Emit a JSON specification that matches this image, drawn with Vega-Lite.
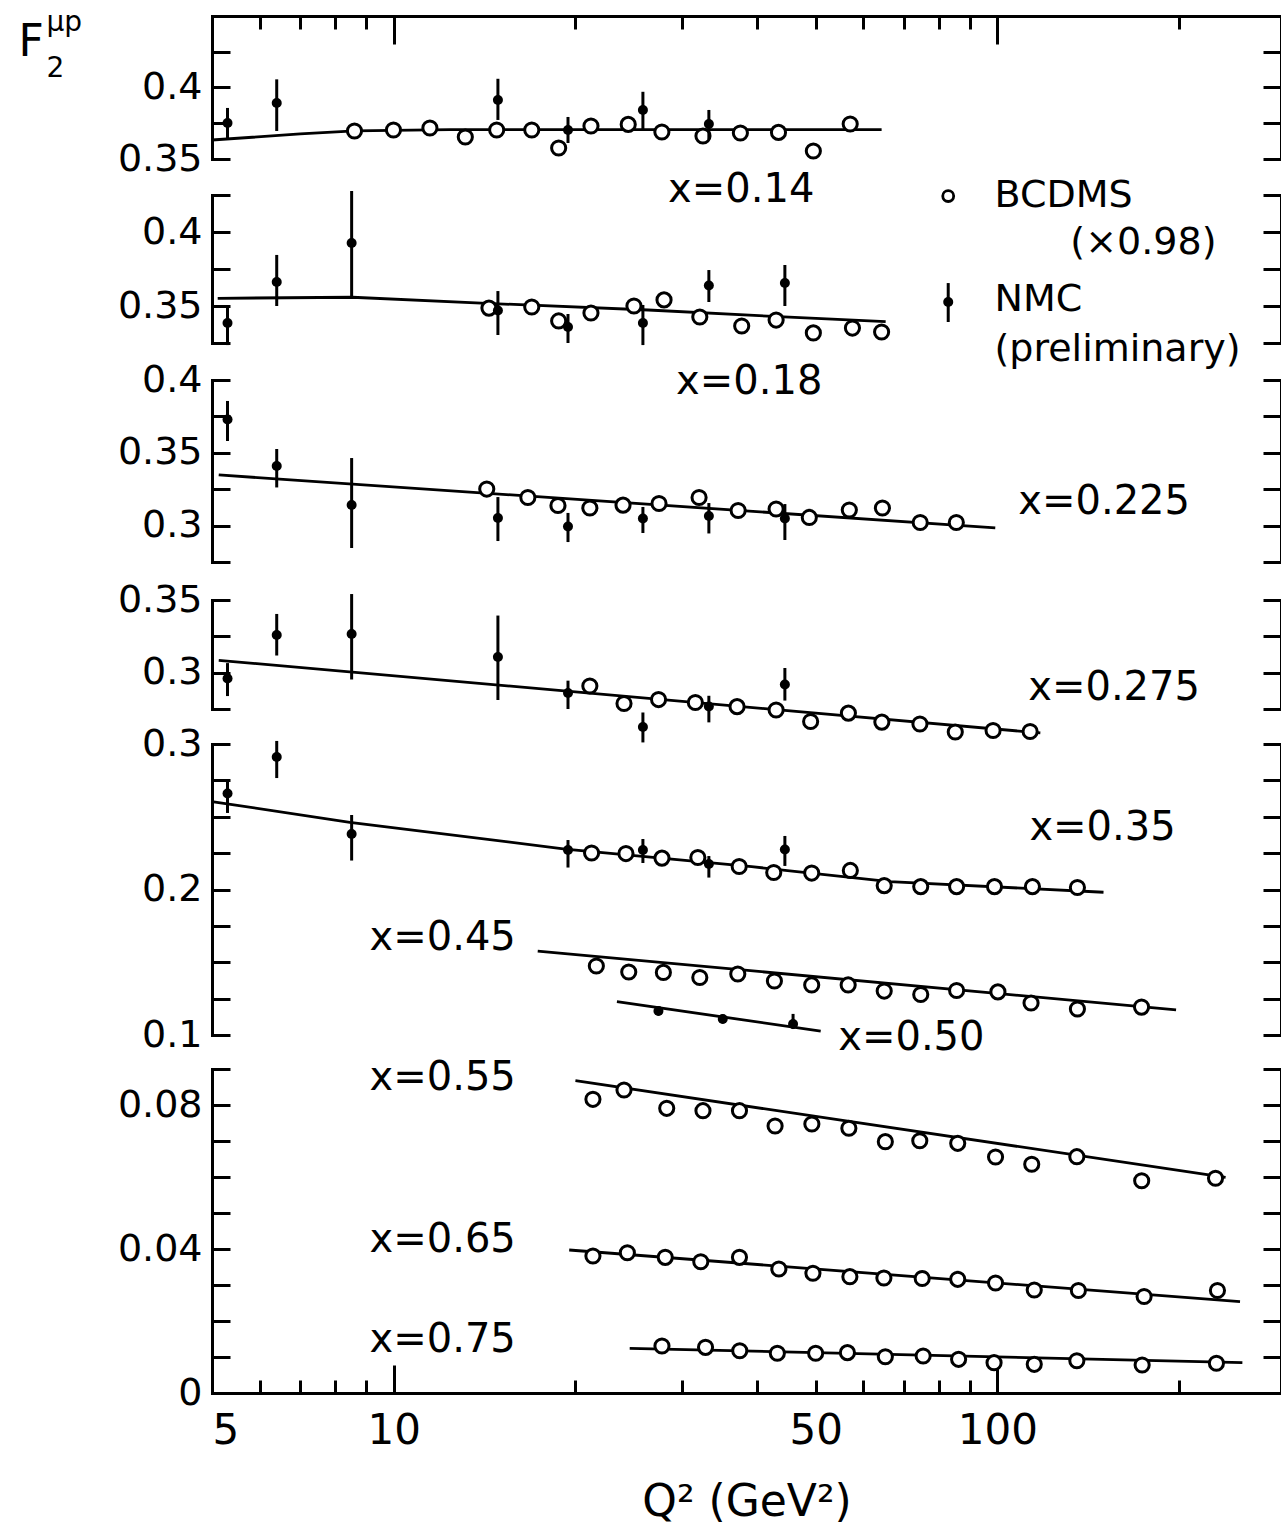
{
  "$schema": "https://vega.github.io/schema/vega-lite/v6.json",
  "width": 1069,
  "height": 1377,
  "autosize": {"type": "none"},
  "padding": {"left": 212, "top": 16, "right": 0, "bottom": 139},
  "background": "white",
  "config": {
    "view": {"stroke": null},
    "font": "DejaVu Sans",
    "axis": {
      "grid": false, "domainColor": "black", "tickColor": "black", "labelColor": "black", "titleColor": "black",
      "domainWidth": 3, "tickWidth": 3, "domainCap": "square", "labelOverlap": false, "labelBound": false,
      "titleFontWeight": "normal", "labelFontSize": 38, "labelFont": "DejaVu Sans", "titleFont": "DejaVu Sans"
    }
  },
  "datasets": {
    "bcdms": [
      {"p":1,"Q2":8.61,"F2":0.3696},{"p":1,"Q2":9.99,"F2":0.3703},{"p":1,"Q2":11.48,"F2":0.3717},{"p":1,"Q2":13.14,"F2":0.3654},{"p":1,"Q2":14.81,"F2":0.3703},{"p":1,"Q2":16.93,"F2":0.3703},{"p":1,"Q2":18.76,"F2":0.3577},{"p":1,"Q2":21.22,"F2":0.3731},{"p":1,"Q2":24.46,"F2":0.3742},{"p":1,"Q2":27.81,"F2":0.3689},{"p":1,"Q2":32.53,"F2":0.3661},{"p":1,"Q2":37.52,"F2":0.3682},{"p":1,"Q2":43.39,"F2":0.3686},{"p":1,"Q2":49.56,"F2":0.3556},{"p":1,"Q2":57.04,"F2":0.3745},
      {"p":2,"Q2":14.38,"F2":0.3486},{"p":2,"Q2":16.93,"F2":0.3493},{"p":2,"Q2":18.76,"F2":0.3399},{"p":2,"Q2":21.22,"F2":0.3453},{"p":2,"Q2":25.0,"F2":0.35},{"p":2,"Q2":28.04,"F2":0.3541},{"p":2,"Q2":32.14,"F2":0.3426},{"p":2,"Q2":37.71,"F2":0.3365},{"p":2,"Q2":43.0,"F2":0.3405},{"p":2,"Q2":49.56,"F2":0.3318},{"p":2,"Q2":57.53,"F2":0.3351},{"p":2,"Q2":64.3,"F2":0.3324},
      {"p":3,"Q2":14.26,"F2":0.3251},{"p":3,"Q2":16.68,"F2":0.3193},{"p":3,"Q2":18.71,"F2":0.3138},{"p":3,"Q2":21.13,"F2":0.3121},{"p":3,"Q2":23.98,"F2":0.3141},{"p":3,"Q2":27.51,"F2":0.3152},{"p":3,"Q2":32.05,"F2":0.3193},{"p":3,"Q2":37.2,"F2":0.3104},{"p":3,"Q2":43.0,"F2":0.3114},{"p":3,"Q2":48.8,"F2":0.3056},{"p":3,"Q2":56.85,"F2":0.3107},{"p":3,"Q2":64.5,"F2":0.3121},{"p":3,"Q2":74.5,"F2":0.3021},{"p":3,"Q2":85.5,"F2":0.3021},
      {"p":4,"Q2":21.13,"F2":0.2908},{"p":4,"Q2":24.07,"F2":0.2788},{"p":4,"Q2":27.46,"F2":0.2815},{"p":4,"Q2":31.6,"F2":0.2795},{"p":4,"Q2":37.05,"F2":0.2766},{"p":4,"Q2":43.0,"F2":0.2743},{"p":4,"Q2":49.05,"F2":0.2664},{"p":4,"Q2":56.65,"F2":0.2722},{"p":4,"Q2":64.36,"F2":0.266},{"p":4,"Q2":74.42,"F2":0.2647},{"p":4,"Q2":85.16,"F2":0.2592},{"p":4,"Q2":98.37,"F2":0.2602},{"p":4,"Q2":113.3,"F2":0.2595},
      {"p":5,"Q2":21.27,"F2":0.2251},{"p":5,"Q2":24.25,"F2":0.2247},{"p":5,"Q2":27.82,"F2":0.2216},{"p":5,"Q2":31.9,"F2":0.222},{"p":5,"Q2":37.35,"F2":0.2158},{"p":5,"Q2":42.61,"F2":0.2117},{"p":5,"Q2":49.25,"F2":0.2113},{"p":5,"Q2":57.07,"F2":0.2131},{"p":5,"Q2":64.94,"F2":0.2027},{"p":5,"Q2":74.65,"F2":0.202},{"p":5,"Q2":85.6,"F2":0.202},{"p":5,"Q2":98.9,"F2":0.202},{"p":5,"Q2":114.3,"F2":0.202},{"p":5,"Q2":135.7,"F2":0.2014},
      {"p":5,"Q2":21.66,"F2":0.1474},{"p":5,"Q2":24.51,"F2":0.1433},{"p":5,"Q2":27.97,"F2":0.143},{"p":5,"Q2":32.14,"F2":0.1395},{"p":5,"Q2":37.15,"F2":0.1419},{"p":5,"Q2":42.72,"F2":0.1371},{"p":5,"Q2":49.25,"F2":0.1344},{"p":5,"Q2":56.6,"F2":0.1344},{"p":5,"Q2":64.94,"F2":0.1302},{"p":5,"Q2":74.65,"F2":0.1278},{"p":5,"Q2":85.6,"F2":0.1306},{"p":5,"Q2":100.2,"F2":0.1296},{"p":5,"Q2":113.7,"F2":0.122},{"p":5,"Q2":135.7,"F2":0.1179},{"p":5,"Q2":173.3,"F2":0.1192},
      {"p":6,"Q2":21.38,"F2":0.08158},{"p":6,"Q2":24.07,"F2":0.08417},{"p":6,"Q2":28.33,"F2":0.07908},{"p":6,"Q2":32.53,"F2":0.07842},{"p":6,"Q2":37.39,"F2":0.07842},{"p":6,"Q2":42.83,"F2":0.07417},{"p":6,"Q2":49.28,"F2":0.07472},{"p":6,"Q2":56.75,"F2":0.07353},{"p":6,"Q2":65.22,"F2":0.06981},{"p":6,"Q2":74.38,"F2":0.07008},{"p":6,"Q2":85.96,"F2":0.06936},{"p":6,"Q2":99.3,"F2":0.06556},{"p":6,"Q2":114.0,"F2":0.06353},{"p":6,"Q2":135.4,"F2":0.06564},{"p":6,"Q2":173.4,"F2":0.05897},{"p":6,"Q2":229.8,"F2":0.05964},
      {"p":6,"Q2":21.38,"F2":0.03806},{"p":6,"Q2":24.38,"F2":0.03897},{"p":6,"Q2":28.17,"F2":0.03769},{"p":6,"Q2":32.26,"F2":0.03647},{"p":6,"Q2":37.39,"F2":0.03769},{"p":6,"Q2":43.45,"F2":0.03444},{"p":6,"Q2":49.48,"F2":0.03325},{"p":6,"Q2":56.97,"F2":0.03231},{"p":6,"Q2":64.86,"F2":0.03194},{"p":6,"Q2":75.07,"F2":0.0318},{"p":6,"Q2":85.96,"F2":0.03158},{"p":6,"Q2":99.3,"F2":0.03056},{"p":6,"Q2":115.1,"F2":0.02861},{"p":6,"Q2":136.2,"F2":0.02847},{"p":6,"Q2":175.0,"F2":0.0268},{"p":6,"Q2":231.5,"F2":0.02847},
      {"p":6,"Q2":27.82,"F2":0.01306},{"p":6,"Q2":32.85,"F2":0.01269},{"p":6,"Q2":37.43,"F2":0.01175},{"p":6,"Q2":43.2,"F2":0.01103},{"p":6,"Q2":50.0,"F2":0.01103},{"p":6,"Q2":56.44,"F2":0.0112},{"p":6,"Q2":65.22,"F2":0.01008},{"p":6,"Q2":75.34,"F2":0.01028},{"p":6,"Q2":86.25,"F2":0.00936},{"p":6,"Q2":98.74,"F2":0.00842},{"p":6,"Q2":115.1,"F2":0.00797},{"p":6,"Q2":135.4,"F2":0.00897},{"p":6,"Q2":173.7,"F2":0.00778},{"p":6,"Q2":230.6,"F2":0.00825}
    ],
    "nmc": [
      {"p":1,"Q2":5.305,"F2":0.3752,"lo":0.3647,"hi":0.3857},{"p":1,"Q2":6.4,"F2":0.3892,"lo":0.3696,"hi":0.4057},{"p":1,"Q2":14.88,"F2":0.3913,"lo":0.3773,"hi":0.4061},{"p":1,"Q2":19.44,"F2":0.3703,"lo":0.3612,"hi":0.3794},{"p":1,"Q2":25.87,"F2":0.3843,"lo":0.3703,"hi":0.397},{"p":1,"Q2":33.27,"F2":0.3745,"lo":0.364,"hi":0.3843},
      {"p":2,"Q2":5.305,"F2":0.3385,"lo":0.3236,"hi":0.35},{"p":2,"Q2":6.4,"F2":0.3662,"lo":0.35,"hi":0.3845},{"p":2,"Q2":8.517,"F2":0.3926,"lo":0.3554,"hi":0.4277},{"p":2,"Q2":14.88,"F2":0.347,"lo":0.3304,"hi":0.3601},{"p":2,"Q2":19.44,"F2":0.3358,"lo":0.325,"hi":0.3446},{"p":2,"Q2":25.87,"F2":0.3385,"lo":0.3236,"hi":0.3507},{"p":2,"Q2":33.27,"F2":0.3639,"lo":0.3527,"hi":0.3743},{"p":2,"Q2":44.46,"F2":0.3655,"lo":0.35,"hi":0.3777},
      {"p":3,"Q2":5.305,"F2":0.3729,"lo":0.3581,"hi":0.3856},{"p":3,"Q2":6.4,"F2":0.3409,"lo":0.3262,"hi":0.3526},{"p":3,"Q2":8.517,"F2":0.3141,"lo":0.2846,"hi":0.3464},{"p":3,"Q2":14.88,"F2":0.3052,"lo":0.2894,"hi":0.3196},{"p":3,"Q2":19.44,"F2":0.2994,"lo":0.2887,"hi":0.3087},{"p":3,"Q2":25.87,"F2":0.3049,"lo":0.2949,"hi":0.3128},{"p":3,"Q2":33.27,"F2":0.3066,"lo":0.2946,"hi":0.3155},{"p":3,"Q2":44.46,"F2":0.3049,"lo":0.2901,"hi":0.3148},
      {"p":4,"Q2":5.305,"F2":0.296,"lo":0.2839,"hi":0.3066},{"p":4,"Q2":6.4,"F2":0.3259,"lo":0.3118,"hi":0.3404},{"p":4,"Q2":8.517,"F2":0.3266,"lo":0.2953,"hi":0.3541},{"p":4,"Q2":14.88,"F2":0.3108,"lo":0.2812,"hi":0.3393},{"p":4,"Q2":19.44,"F2":0.286,"lo":0.275,"hi":0.2945},{"p":4,"Q2":25.87,"F2":0.2626,"lo":0.252,"hi":0.2726},{"p":4,"Q2":33.27,"F2":0.2767,"lo":0.2658,"hi":0.2841},{"p":4,"Q2":44.46,"F2":0.2918,"lo":0.2808,"hi":0.3032},
      {"p":5,"Q2":5.305,"F2":0.266,"lo":0.2526,"hi":0.2739},{"p":5,"Q2":6.4,"F2":0.2911,"lo":0.2766,"hi":0.3021},{"p":5,"Q2":8.517,"F2":0.2381,"lo":0.2199,"hi":0.2512},{"p":5,"Q2":19.44,"F2":0.2271,"lo":0.2151,"hi":0.234},{"p":5,"Q2":25.87,"F2":0.2271,"lo":0.2182,"hi":0.2347},{"p":5,"Q2":33.27,"F2":0.2175,"lo":0.2082,"hi":0.223},{"p":5,"Q2":44.46,"F2":0.2275,"lo":0.2162,"hi":0.2368},
      {"p":5,"Q2":27.45,"F2":0.1165,"lo":0.1135,"hi":0.1195},{"p":5,"Q2":35.08,"F2":0.111,"lo":0.108,"hi":0.114},{"p":5,"Q2":45.87,"F2":0.1076,"lo":0.1041,"hi":0.1145}
    ],
    "fits": [
      {"p":1,"c":"0.14","Q2":5.0,"F2":0.3633},{"p":1,"c":"0.14","Q2":7.0,"F2":0.3675},{"p":1,"c":"0.14","Q2":8.61,"F2":0.3696},{"p":1,"c":"0.14","Q2":12.4,"F2":0.3706},{"p":1,"c":"0.14","Q2":64.3,"F2":0.3706},
      {"p":2,"c":"0.18","Q2":5.11,"F2":0.3552},{"p":2,"c":"0.18","Q2":8.54,"F2":0.3559},{"p":2,"c":"0.18","Q2":14.26,"F2":0.3518},{"p":2,"c":"0.18","Q2":26.4,"F2":0.3473},{"p":2,"c":"0.18","Q2":43.4,"F2":0.3428},{"p":2,"c":"0.18","Q2":65.3,"F2":0.3394},
      {"p":3,"c":"0.225","Q2":5.13,"F2":0.3348},{"p":3,"c":"0.225","Q2":99.2,"F2":0.2984},
      {"p":4,"c":"0.275","Q2":5.13,"F2":0.3085},{"p":4,"c":"0.275","Q2":117.8,"F2":0.2585},
      {"p":5,"c":"0.35","Q2":5.03,"F2":0.2603},{"p":5,"c":"0.35","Q2":8.46,"F2":0.2462},{"p":5,"c":"0.35","Q2":19.24,"F2":0.2278},{"p":5,"c":"0.35","Q2":39.16,"F2":0.2157},{"p":5,"c":"0.35","Q2":66.3,"F2":0.2054},{"p":5,"c":"0.35","Q2":149.9,"F2":0.1981},
      {"p":5,"c":"0.45","Q2":17.32,"F2":0.1577},{"p":5,"c":"0.45","Q2":197.7,"F2":0.1172},
      {"p":5,"c":"0.50","Q2":23.43,"F2":0.1229},{"p":5,"c":"0.50","Q2":50.97,"F2":0.1027},
      {"p":6,"c":"0.55","Q2":20.0,"F2":0.08675},{"p":6,"c":"0.55","Q2":238.8,"F2":0.0599},
      {"p":6,"c":"0.65","Q2":19.53,"F2":0.03972},{"p":6,"c":"0.65","Q2":252.3,"F2":0.02536},
      {"p":6,"c":"0.75","Q2":24.6,"F2":0.01242},{"p":6,"c":"0.75","Q2":254.6,"F2":0.00842}
    ],
    "labels": [
      {"p":1,"Q2":28.48,"F2":0.3283,"text":"x=0.14"},
      {"p":2,"Q2":29.36,"F2":0.2986,"text":"x=0.18"},
      {"p":3,"Q2":108.3,"F2":0.3162,"text":"x=0.225"},
      {"p":4,"Q2":112.5,"F2":0.2894,"text":"x=0.275"},
      {"p":5,"Q2":113.0,"F2":0.2423,"text":"x=0.35"},
      {"p":5,"Q2":9.12,"F2":0.1667,"text":"x=0.45"},
      {"p":5,"Q2":54.5,"F2":0.0979,"text":"x=0.50"},
      {"p":6,"Q2":9.12,"F2":0.0875,"text":"x=0.55"},
      {"p":6,"Q2":9.12,"F2":0.0425,"text":"x=0.65"},
      {"p":6,"Q2":9.12,"F2":0.0147,"text":"x=0.75"}
    ],
    "legend": [
      {"kind":"bcdms","Q2":82.9,"F2":0.4243},
      {"kind":"nmc","Q2":82.9,"F2":0.3527,"lo":0.3392,"hi":0.3655},
      {"kind":"text","Q2":98.9,"F2":0.4243,"text":"BCDMS"},
      {"kind":"text","Q2":132.1,"F2":0.3926,"text":"(×0.98)"},
      {"kind":"text","Q2":98.9,"F2":0.354,"text":"NMC"},
      {"kind":"text","Q2":98.9,"F2":0.3203,"text":"(preliminary)"}
    ]
  },
  "layer": [
    {
      "layer": [
        {"data":{"name":"fits"},"transform":[{"filter":"datum.p == 1"}],"mark":{"type":"line","color":"black","strokeWidth":2.8},
         "encoding":{"x":{"field":"Q2","type":"quantitative","scale":{"type":"log","domain":[5,295],"nice":false},"axis":null},
           "y":{"field":"F2","type":"quantitative","scale":{"domain":[0.35,0.45],"range":[143,0],"nice":false,"zero":false},
             "axis":{"orient":"left","values":[0.35,0.375,0.4,0.425],"format":".2~f","labelExpr":"indexof([0.35,0.4], datum.value) >= 0 ? datum.label : ''","tickSize":-18,"labelPadding":28,
               "title":"F","titleAngle":0,"titleX":-194,"titleY":26,"titleAlign":"left","titleBaseline":"middle","titleFontSize":44}},
           "detail":{"field":"c"}}},
        {"data":{"name":"bcdms"},"transform":[{"filter":"datum.p == 1"}],"mark":{"type":"point","shape":"circle","filled":true,"fill":"white","stroke":"black","strokeWidth":3,"size":200,"opacity":1},
         "encoding":{"x":{"field":"Q2","type":"quantitative","scale":{"type":"log","domain":[5,295],"nice":false},"axis":null},
           "y":{"field":"F2","type":"quantitative","axis":{"orient":"right","values":[0.35,0.375,0.4,0.425],"tickSize":-18,"labels":false,
             "title":"μp","titleAngle":0,"titleX":-1235,"titleY":6,"titleAlign":"left","titleBaseline":"middle","titleFontSize":28}}}},
        {"data":{"name":"nmc"},"transform":[{"filter":"datum.p == 1"}],"mark":{"type":"rule","color":"black","strokeWidth":3},
         "encoding":{"x":{"field":"Q2","type":"quantitative","scale":{"type":"log","domain":[5,295],"nice":false},"axis":null},
           "y":{"field":"lo","type":"quantitative","axis":null},"y2":{"field":"hi"}}},
        {"data":{"name":"nmc"},"transform":[{"filter":"datum.p == 1"}],"mark":{"type":"point","shape":"circle","filled":true,"color":"black","size":100,"opacity":1},
         "encoding":{"x":{"field":"Q2","type":"quantitative","scale":{"type":"log","domain":[5,295],"nice":false},"axis":null},
           "y":{"field":"F2","type":"quantitative","axis":null}}},
        {"data":{"name":"labels"},"transform":[{"filter":"datum.p == 1"}],"mark":{"type":"text","align":"left","baseline":"middle","fontSize":40,"color":"black"},
         "encoding":{"x":{"field":"Q2","type":"quantitative","scale":{"type":"log","domain":[5,295],"nice":false},"axis":null},
           "y":{"field":"F2","type":"quantitative","axis":null},"text":{"field":"text"}}}
      ],
      "resolve":{"axis":{"y":"independent"}}
    },
    {
      "layer": [
        {"data":{"name":"fits"},"transform":[{"filter":"datum.p == 2"}],"mark":{"type":"line","color":"black","strokeWidth":2.8},
         "encoding":{"x":{"field":"Q2","type":"quantitative","scale":{"type":"log","domain":[5,295],"nice":false},"axis":null},
           "y":{"field":"F2","type":"quantitative","scale":{"domain":[0.325,0.425],"range":[327,179],"nice":false,"zero":false},
             "axis":{"orient":"left","values":[0.325,0.35,0.375,0.4,0.425],"format":".2~f","labelExpr":"indexof([0.35,0.4], datum.value) >= 0 ? datum.label : ''","tickSize":-18,"labelPadding":28,"title":null}},
           "detail":{"field":"c"}}},
        {"data":{"name":"bcdms"},"transform":[{"filter":"datum.p == 2"}],"mark":{"type":"point","shape":"circle","filled":true,"fill":"white","stroke":"black","strokeWidth":3,"size":200,"opacity":1},
         "encoding":{"x":{"field":"Q2","type":"quantitative","scale":{"type":"log","domain":[5,295],"nice":false},"axis":null},
           "y":{"field":"F2","type":"quantitative","axis":{"orient":"right","values":[0.325,0.35,0.375,0.4,0.425],"tickSize":-18,"labels":false,
             "title":"2","titleAngle":0,"titleX":-1235,"titleY":52,"titleAlign":"left","titleBaseline":"middle","titleFontSize":28}}}},
        {"data":{"name":"nmc"},"transform":[{"filter":"datum.p == 2"}],"mark":{"type":"rule","color":"black","strokeWidth":3},
         "encoding":{"x":{"field":"Q2","type":"quantitative","scale":{"type":"log","domain":[5,295],"nice":false},"axis":null},
           "y":{"field":"lo","type":"quantitative","axis":null},"y2":{"field":"hi"}}},
        {"data":{"name":"nmc"},"transform":[{"filter":"datum.p == 2"}],"mark":{"type":"point","shape":"circle","filled":true,"color":"black","size":100,"opacity":1},
         "encoding":{"x":{"field":"Q2","type":"quantitative","scale":{"type":"log","domain":[5,295],"nice":false},"axis":null},
           "y":{"field":"F2","type":"quantitative","axis":null}}},
        {"data":{"name":"labels"},"transform":[{"filter":"datum.p == 2"}],"mark":{"type":"text","align":"left","baseline":"middle","fontSize":40,"color":"black"},
         "encoding":{"x":{"field":"Q2","type":"quantitative","scale":{"type":"log","domain":[5,295],"nice":false},"axis":null},
           "y":{"field":"F2","type":"quantitative","axis":null},"text":{"field":"text"}}},
        {"data":{"name":"legend"},"transform":[{"filter":"datum.kind == 'text'"}],"mark":{"type":"text","align":"left","baseline":"middle","fontSize":38,"color":"black"},
         "encoding":{"x":{"field":"Q2","type":"quantitative","scale":{"type":"log","domain":[5,295],"nice":false},"axis":null},
           "y":{"field":"F2","type":"quantitative","axis":null},"text":{"field":"text"}}},
        {"data":{"name":"legend"},"transform":[{"filter":"datum.kind == 'bcdms'"}],"mark":{"type":"point","shape":"circle","filled":true,"fill":"white","stroke":"black","strokeWidth":2.8,"size":120,"opacity":1},
         "encoding":{"x":{"field":"Q2","type":"quantitative","scale":{"type":"log","domain":[5,295],"nice":false},"axis":null},
           "y":{"field":"F2","type":"quantitative","axis":null}}},
        {"data":{"name":"legend"},"transform":[{"filter":"datum.kind == 'nmc'"}],"mark":{"type":"rule","color":"black","strokeWidth":3},
         "encoding":{"x":{"field":"Q2","type":"quantitative","scale":{"type":"log","domain":[5,295],"nice":false},"axis":null},
           "y":{"field":"lo","type":"quantitative","axis":null},"y2":{"field":"hi"}}},
        {"data":{"name":"legend"},"transform":[{"filter":"datum.kind == 'nmc'"}],"mark":{"type":"point","shape":"circle","filled":true,"color":"black","size":100,"opacity":1},
         "encoding":{"x":{"field":"Q2","type":"quantitative","scale":{"type":"log","domain":[5,295],"nice":false},"axis":null},
           "y":{"field":"F2","type":"quantitative","axis":null}}}
      ],
      "resolve":{"axis":{"y":"independent"}}
    },
    {
      "layer": [
        {"data":{"name":"fits"},"transform":[{"filter":"datum.p == 3"}],"mark":{"type":"line","color":"black","strokeWidth":2.8},
         "encoding":{"x":{"field":"Q2","type":"quantitative","scale":{"type":"log","domain":[5,295],"nice":false},"axis":null},
           "y":{"field":"F2","type":"quantitative","scale":{"domain":[0.275,0.4],"range":[546,364],"nice":false,"zero":false},
             "axis":{"orient":"left","values":[0.275,0.3,0.325,0.35,0.375,0.4],"format":".2~f","labelExpr":"indexof([0.3,0.35,0.4], datum.value) >= 0 ? datum.label : ''","tickSize":-18,"labelPadding":28,"title":null}},
           "detail":{"field":"c"}}},
        {"data":{"name":"bcdms"},"transform":[{"filter":"datum.p == 3"}],"mark":{"type":"point","shape":"circle","filled":true,"fill":"white","stroke":"black","strokeWidth":3,"size":200,"opacity":1},
         "encoding":{"x":{"field":"Q2","type":"quantitative","scale":{"type":"log","domain":[5,295],"nice":false},"axis":null},
           "y":{"field":"F2","type":"quantitative","axis":{"orient":"right","values":[0.275,0.3,0.325,0.35,0.375,0.4],"tickSize":-18,"labels":false,"title":null}}}},
        {"data":{"name":"nmc"},"transform":[{"filter":"datum.p == 3"}],"mark":{"type":"rule","color":"black","strokeWidth":3},
         "encoding":{"x":{"field":"Q2","type":"quantitative","scale":{"type":"log","domain":[5,295],"nice":false},"axis":null},
           "y":{"field":"lo","type":"quantitative","axis":null},"y2":{"field":"hi"}}},
        {"data":{"name":"nmc"},"transform":[{"filter":"datum.p == 3"}],"mark":{"type":"point","shape":"circle","filled":true,"color":"black","size":100,"opacity":1},
         "encoding":{"x":{"field":"Q2","type":"quantitative","scale":{"type":"log","domain":[5,295],"nice":false},"axis":null},
           "y":{"field":"F2","type":"quantitative","axis":null}}},
        {"data":{"name":"labels"},"transform":[{"filter":"datum.p == 3"}],"mark":{"type":"text","align":"left","baseline":"middle","fontSize":40,"color":"black"},
         "encoding":{"x":{"field":"Q2","type":"quantitative","scale":{"type":"log","domain":[5,295],"nice":false},"axis":null},
           "y":{"field":"F2","type":"quantitative","axis":null},"text":{"field":"text"}}}
      ],
      "resolve":{"axis":{"y":"independent"}}
    },
    {
      "layer": [
        {"data":{"name":"fits"},"transform":[{"filter":"datum.p == 4"}],"mark":{"type":"line","color":"black","strokeWidth":2.8},
         "encoding":{"x":{"field":"Q2","type":"quantitative","scale":{"type":"log","domain":[5,295],"nice":false},"axis":null},
           "y":{"field":"F2","type":"quantitative","scale":{"domain":[0.275,0.35],"range":[693,584],"nice":false,"zero":false},
             "axis":{"orient":"left","values":[0.275,0.3,0.325,0.35],"format":".2~f","labelExpr":"indexof([0.3,0.35], datum.value) >= 0 ? datum.label : ''","tickSize":-18,"labelPadding":28,"title":null}},
           "detail":{"field":"c"}}},
        {"data":{"name":"bcdms"},"transform":[{"filter":"datum.p == 4"}],"mark":{"type":"point","shape":"circle","filled":true,"fill":"white","stroke":"black","strokeWidth":3,"size":200,"opacity":1},
         "encoding":{"x":{"field":"Q2","type":"quantitative","scale":{"type":"log","domain":[5,295],"nice":false},"axis":null},
           "y":{"field":"F2","type":"quantitative","axis":{"orient":"right","values":[0.275,0.3,0.325,0.35],"tickSize":-18,"labels":false,"title":null}}}},
        {"data":{"name":"nmc"},"transform":[{"filter":"datum.p == 4"}],"mark":{"type":"rule","color":"black","strokeWidth":3},
         "encoding":{"x":{"field":"Q2","type":"quantitative","scale":{"type":"log","domain":[5,295],"nice":false},"axis":null},
           "y":{"field":"lo","type":"quantitative","axis":null},"y2":{"field":"hi"}}},
        {"data":{"name":"nmc"},"transform":[{"filter":"datum.p == 4"}],"mark":{"type":"point","shape":"circle","filled":true,"color":"black","size":100,"opacity":1},
         "encoding":{"x":{"field":"Q2","type":"quantitative","scale":{"type":"log","domain":[5,295],"nice":false},"axis":null},
           "y":{"field":"F2","type":"quantitative","axis":null}}},
        {"data":{"name":"labels"},"transform":[{"filter":"datum.p == 4"}],"mark":{"type":"text","align":"left","baseline":"middle","fontSize":40,"color":"black"},
         "encoding":{"x":{"field":"Q2","type":"quantitative","scale":{"type":"log","domain":[5,295],"nice":false},"axis":null},
           "y":{"field":"F2","type":"quantitative","axis":null},"text":{"field":"text"}}}
      ],
      "resolve":{"axis":{"y":"independent"}}
    },
    {
      "layer": [
        {"data":{"name":"fits"},"transform":[{"filter":"datum.p == 5"}],"mark":{"type":"line","color":"black","strokeWidth":2.8},
         "encoding":{"x":{"field":"Q2","type":"quantitative","scale":{"type":"log","domain":[5,295],"nice":false},"axis":null},
           "y":{"field":"F2","type":"quantitative","scale":{"domain":[0.1,0.3],"range":[1019,728],"nice":false,"zero":false},
             "axis":{"orient":"left","values":[0.1,0.125,0.15,0.175,0.2,0.225,0.25,0.275,0.3],"format":".2~f","labelExpr":"indexof([0.1,0.2,0.3], datum.value) >= 0 ? datum.label : ''","tickSize":-18,"labelPadding":28,"title":null}},
           "detail":{"field":"c"}}},
        {"data":{"name":"bcdms"},"transform":[{"filter":"datum.p == 5"}],"mark":{"type":"point","shape":"circle","filled":true,"fill":"white","stroke":"black","strokeWidth":3,"size":200,"opacity":1},
         "encoding":{"x":{"field":"Q2","type":"quantitative","scale":{"type":"log","domain":[5,295],"nice":false},"axis":null},
           "y":{"field":"F2","type":"quantitative","axis":{"orient":"right","values":[0.1,0.125,0.15,0.175,0.2,0.225,0.25,0.275,0.3],"tickSize":-18,"labels":false,"title":null}}}},
        {"data":{"name":"nmc"},"transform":[{"filter":"datum.p == 5"}],"mark":{"type":"rule","color":"black","strokeWidth":3},
         "encoding":{"x":{"field":"Q2","type":"quantitative","scale":{"type":"log","domain":[5,295],"nice":false},"axis":null},
           "y":{"field":"lo","type":"quantitative","axis":null},"y2":{"field":"hi"}}},
        {"data":{"name":"nmc"},"transform":[{"filter":"datum.p == 5"}],"mark":{"type":"point","shape":"circle","filled":true,"color":"black","size":100,"opacity":1},
         "encoding":{"x":{"field":"Q2","type":"quantitative","scale":{"type":"log","domain":[5,295],"nice":false},"axis":null},
           "y":{"field":"F2","type":"quantitative","axis":null}}},
        {"data":{"name":"labels"},"transform":[{"filter":"datum.p == 5"}],"mark":{"type":"text","align":"left","baseline":"middle","fontSize":40,"color":"black"},
         "encoding":{"x":{"field":"Q2","type":"quantitative","scale":{"type":"log","domain":[5,295],"nice":false},"axis":null},
           "y":{"field":"F2","type":"quantitative","axis":null},"text":{"field":"text"}}}
      ],
      "resolve":{"axis":{"y":"independent"}}
    },
    {
      "layer": [
        {"data":{"name":"fits"},"transform":[{"filter":"datum.p == 6"}],"mark":{"type":"line","color":"black","strokeWidth":2.8},
         "encoding":{"x":{"field":"Q2","type":"quantitative","scale":{"type":"log","domain":[5,295],"nice":false},
             "axis":{"orient":"bottom","values":[5,6,7,8,9,10,20,30,40,50,60,70,80,90,100,200],"format":"d","labelExpr":"indexof([5,10,50,100], datum.value) >= 0 ? datum.label : ''",
               "tickSize":{"condition":{"test":"datum.value == 10 || datum.value == 100","value":-28},"value":-13},
               "labelPadding":{"condition":{"test":"datum.value == 10 || datum.value == 100","value":45},"value":30},
               "labelFontSize":42,"labelFlush":true,"title":"Q² (GeV²)","titleFontSize":44,"titleY":122,"titleBaseline":"alphabetic"}},
           "y":{"field":"F2","type":"quantitative","scale":{"domain":[0,0.09],"range":[1377,1053],"nice":false,"zero":false},
             "axis":{"orient":"left","values":[0,0.01,0.02,0.03,0.04,0.05,0.06,0.07,0.08,0.09],"format":".2~f","labelExpr":"indexof([0,0.04,0.08], datum.value) >= 0 ? datum.label : ''","tickSize":-18,"labelPadding":28,"title":null}},
           "detail":{"field":"c"}}},
        {"data":{"name":"bcdms"},"transform":[{"filter":"datum.p == 6"}],"mark":{"type":"point","shape":"circle","filled":true,"fill":"white","stroke":"black","strokeWidth":3,"size":200,"opacity":1},
         "encoding":{"x":{"field":"Q2","type":"quantitative","scale":{"type":"log","domain":[5,295],"nice":false},
             "axis":{"orient":"top","values":[5,6,7,8,9,10,20,30,40,50,60,70,80,90,100,200],"labels":false,"title":null,
               "tickSize":{"condition":{"test":"datum.value == 10 || datum.value == 100","value":-28},"value":-13}}},
           "y":{"field":"F2","type":"quantitative","axis":{"orient":"right","values":[0,0.01,0.02,0.03,0.04,0.05,0.06,0.07,0.08,0.09],"tickSize":-18,"labels":false,"title":null}}}},
        {"data":{"name":"labels"},"transform":[{"filter":"datum.p == 6"}],"mark":{"type":"text","align":"left","baseline":"middle","fontSize":40,"color":"black"},
         "encoding":{"x":{"field":"Q2","type":"quantitative","scale":{"type":"log","domain":[5,295],"nice":false},"axis":null},
           "y":{"field":"F2","type":"quantitative","axis":null},"text":{"field":"text"}}}
      ],
      "resolve":{"axis":{"y":"independent","x":"independent"}}
    }
  ],
  "resolve": {"scale": {"y": "independent"}, "axis": {"y": "independent", "x": "independent"}}
}
